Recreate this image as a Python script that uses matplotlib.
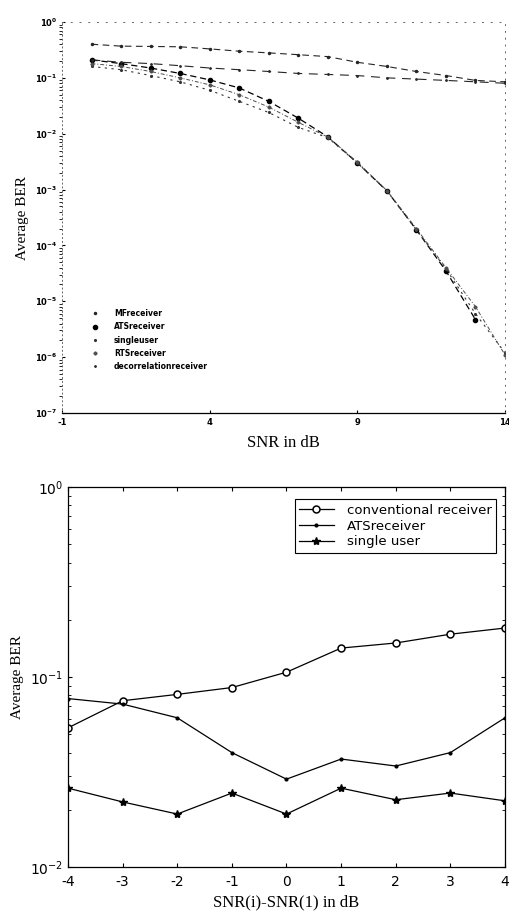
import matplotlib.pyplot as plt
import numpy as np
from matplotlib.ticker import LogLocator, NullFormatter

plt.rcParams['axes.unicode_minus'] = False

# top panel: BER vs SNR
snr = [0, 1, 2, 3, 4, 5, 6, 7, 8, 9, 10, 11, 12, 13, 14]
ber_mf = [0.40, 0.37, 0.365, 0.36, 0.33, 0.30, 0.28, 0.26, 0.24, 0.19, 0.16, 0.13, 0.11, 0.09, 0.085]
ber_decor = [0.21, 0.19, 0.18, 0.165, 0.15, 0.14, 0.13, 0.12, 0.115, 0.11, 0.10, 0.095, 0.09, 0.085, 0.08]
ber_ats = [0.21, 0.18, 0.15, 0.12, 0.092, 0.066, 0.038, 0.019, 0.0088, 0.0030, 9.5e-4, 1.9e-4, 3.5e-5, 4.7e-6]
ber_single = [0.16, 0.14, 0.11, 0.085, 0.06, 0.038, 0.024, 0.013, 0.0085, 0.0030, 9.5e-4, 1.9e-4, 3.8e-5, 6e-6, 1.2e-6]
ber_rts = [0.18, 0.16, 0.13, 0.10, 0.075, 0.05, 0.03, 0.016, 0.0087, 0.0031, 9.6e-4, 2.0e-4, 4.0e-5, 8e-6, 1.1e-6]

# bottom panel: BER vs SNR difference
dsnr = [-4, -3, -2, -1, 0, 1, 2, 3, 4]
ber_conv = [0.054, 0.075, 0.081, 0.088, 0.106, 0.142, 0.151, 0.168, 0.181]
ber_ats2 = [0.077, 0.072, 0.061, 0.040, 0.029, 0.037, 0.034, 0.040, 0.061]
ber_single2 = [0.026, 0.022, 0.019, 0.0245, 0.019, 0.026, 0.0226, 0.0245, 0.0223]

fig = plt.figure(figsize=(5.10, 9.14), dpi=100)
serif = ['Liberation Serif', 'DejaVu Serif']

# ---- top
ax1 = fig.add_axes([62/510, 1-413/914, (505-62)/510, (413-22)/914])
ax1.semilogy(snr, ber_mf, color='0.15', ls=(0, (6, 4)), lw=0.8, marker='.', ms=3, label='MFreceiver')
ax1.semilogy(snr[:len(ber_ats)], ber_ats, color='black', ls=(0, (5, 3)), lw=0.9, marker='o', ms=3, label='ATSreceiver')
ax1.semilogy(snr, ber_single, color='0.2', ls=(0, (2, 4)), lw=0.8, marker='.', ms=2.5, label='singleuser')
ax1.semilogy(snr, ber_rts, color='0.3', ls=(0, (4, 2, 1, 2)), lw=0.7, marker='$\u2295$', ms=2.5,
             mew=0.3, label='RTSreceiver')
ax1.semilogy(snr, ber_decor, color='0.15', ls=(0, (8, 6)), lw=0.8, marker='.', ms=2, label='decorrelationreceiver')
ax1.set_xlim(-1, 14)
ax1.set_ylim(1e-7, 1)
ax1.set_xticks([-1, 4, 9, 14])
ax1.set_yticks([10.0**k for k in range(-7, 1)])
ax1.yaxis.set_minor_formatter(NullFormatter())
ax1.tick_params(labelsize=6, direction='in', length=2)
for lab in ax1.get_xticklabels() + ax1.get_yticklabels():
    lab.set_fontweight('bold')
ax1.spines['left'].set_linestyle((0, (1, 3)))
ax1.spines['top'].set_linestyle((0, (1, 8)))
ax1.spines['right'].set_linestyle((0, (1, 6)))
for s in ['left', 'top', 'right']:
    ax1.spines[s].set_color('0.4')
    ax1.spines[s].set_linewidth(0.7)
ax1.spines['bottom'].set_linewidth(0.9)
ax1.set_xlabel('SNR in dB', family=serif, fontsize=12, labelpad=6)
ax1.set_ylabel('Average BER', family=serif, fontsize=11, labelpad=4)
leg1 = ax1.legend(loc='lower left', bbox_to_anchor=(0.05, 0.09), frameon=False,
                  prop={'size': 5.5, 'weight': 'bold'}, handlelength=1.0, labelspacing=0.55,
                  handletextpad=2.0)
for h in leg1.legend_handles:
    h.set_linestyle('none')

# ---- bottom
ax2 = fig.add_axes([68/510, 1-867/914, (505-68)/510, (867-487)/914])
ax2.semilogy(dsnr, ber_conv, color='black', lw=0.9, marker='o', ms=5, mfc='white', mew=1.1,
             label='conventional receiver')
ax2.semilogy(dsnr, ber_ats2, color='black', lw=0.9, marker='.', ms=4, label='ATSreceiver')
ax2.semilogy(dsnr, ber_single2, color='black', lw=0.9, marker='*', ms=6, label='single user')
ax2.set_xlim(-4, 4)
ax2.set_ylim(1e-2, 1)
ax2.set_xticks(dsnr)
ax2.yaxis.set_major_locator(LogLocator(base=10))
ax2.yaxis.set_minor_formatter(NullFormatter())
ax2.tick_params(which='both', direction='in', top=True, right=True, labelsize=10, length=3)
ax2.tick_params(which='minor', length=2)
ax2.tick_params(axis='x', pad=6)
for s in ax2.spines.values():
    s.set_linewidth(0.9)
ax2.set_xlabel('SNR(i)-SNR(1) in dB', family=serif, fontsize=12, labelpad=4)
ax2.set_ylabel('Average BER', family=serif, fontsize=11, labelpad=4)
leg2 = ax2.legend(loc='upper right', bbox_to_anchor=(0.995, 0.985), fancybox=False,
                  edgecolor='black', prop={'size': 9.5}, borderpad=0.35, labelspacing=0.2,
                  handlelength=2.6, handletextpad=1.0, framealpha=1)
leg2.get_frame().set_linewidth(0.8)

fig.savefig('out.png', dpi=100)
